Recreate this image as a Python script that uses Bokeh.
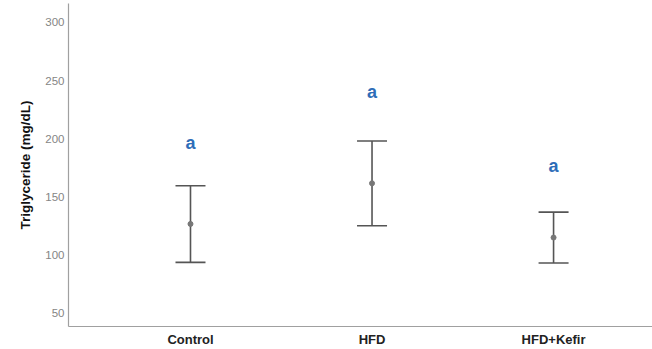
from bokeh.plotting import figure
from bokeh.models import ColumnDataSource, Whisker, TeeHead, FixedTicker, Range1d
from bokeh.embed import file_html
from bokeh.resources import INLINE
from bokeh.core.properties import value

groups = ["Control", "HFD", "HFD+Kefir"]
xpos = [1, 2, 3]
means = [126.5, 161.5, 114.8]
upper = [159.4, 197.9, 136.7]
lower = [93.4, 124.9, 92.9]
letters = ["a", "a", "a"]
letter_y = [196, 240, 176]
yticks = [50, 100, 150, 200, 250, 300]

src = ColumnDataSource(dict(x=xpos, m=means, up=upper, lo=lower, lab=letters, ly=letter_y))

p = figure(width=652, height=349, output_backend="svg", toolbar_location=None,
           x_range=Range1d(0.328, 3.545), y_range=Range1d(38.2, 316.3),
           min_border_left=68, min_border_right=0, min_border_top=3, min_border_bottom=22)
p.outline_line_color = None
p.xgrid.visible = False
p.ygrid.visible = False

w = Whisker(source=src, base="x", upper="up", lower="lo", dimension="height",
            line_color="#555555", line_width=1.6,
            upper_head=TeeHead(size=30, line_color="#555555", line_width=1.6),
            lower_head=TeeHead(size=30, line_color="#555555", line_width=1.6))
p.add_layout(w)
p.scatter("x", "m", source=src, size=5, color="#777777")
p.text("x", "ly", text="lab", source=src, text_align="center", text_baseline="middle",
       text_font=value("Liberation Sans"), text_font_style="bold", text_font_size="18px",
       text_color="#2E6DB8")

p.xaxis.ticker = FixedTicker(ticks=xpos)
p.xaxis.major_label_overrides = {x: g for x, g in zip(xpos, groups)}
p.yaxis.ticker = FixedTicker(ticks=yticks)
for ax in (p.xaxis, p.yaxis):
    ax.major_tick_line_color = None
    ax.minor_tick_line_color = None
    ax.major_tick_out = 0
    ax.major_tick_in = 0
    ax.minor_tick_out = 0
    ax.minor_tick_in = 0
    ax.axis_line_color = "#a0a0a0"
    ax.axis_line_width = 1.2
p.xaxis.major_label_text_font = "Liberation Sans"
p.xaxis.major_label_text_font_style = "bold"
p.xaxis.major_label_text_font_size = "13px"
p.xaxis.major_label_text_color = "#222222"
p.xaxis.major_label_standoff = 5
p.yaxis.major_label_text_font = "Liberation Sans"
p.yaxis.major_label_text_font_size = "11.5px"
p.yaxis.major_label_text_color = "#858585"
p.yaxis.major_label_standoff = 4
p.yaxis.axis_label = "Triglyceride (mg/dL)"
p.yaxis.axis_label_text_font = "Liberation Sans"
p.yaxis.axis_label_text_font_style = "bold"
p.yaxis.axis_label_text_font_size = "13.5px"
p.yaxis.axis_label_text_color = "#111111"
p.yaxis.axis_label_standoff = 9

open("out.html", "w").write(file_html(p, INLINE))
